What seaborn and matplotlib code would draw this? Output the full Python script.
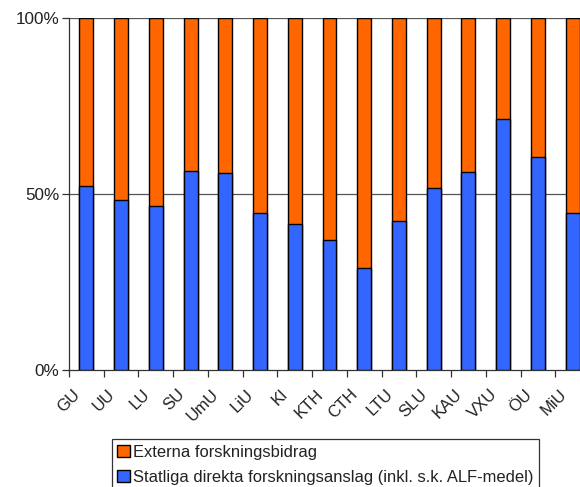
import matplotlib
matplotlib.use("Agg")
import matplotlib.pyplot as plt
import matplotlib.transforms as mtransforms
import seaborn as sns
import pandas as pd
import numpy as np
from matplotlib.patches import Patch

categories = ["GU", "UU", "LU", "SU", "UmU", "LiU", "KI", "KTH", "CTH", "LTU",
              "SLU", "KAU", "VXU", "ÖU", "MiU"]
statliga = [52.2, 48.4, 46.7, 56.7, 55.9, 44.7, 41.6, 36.9, 29.0, 42.3,
            51.8, 56.2, 71.4, 60.6, 44.7]
total = [100] * len(categories)
yticks = [0, 50, 100]
ytick_labels = ["0%", "50%", "100%"]
legend_labels = ["Externa forskningsbidrag",
                 "Statliga direkta forskningsanslag (inkl. s.k. ALF-medel)"]

orange = "#FF6600"
blue = "#3366FF"

sns.set_style("white")
plt.rcParams['font.family'] = ['Liberation Sans', 'DejaVu Sans']

df = pd.DataFrame({"lar": categories, "stat": statliga, "tot": total})

fig = plt.figure(figsize=(5.8, 4.87), dpi=100)
ax = fig.add_axes([69/580, 117/487, 521/580, 351.7/487])

sns.barplot(data=df, x="lar", y="tot", color=orange, width=0.4,
            edgecolor="black", linewidth=1, ax=ax, saturation=1, zorder=3)
sns.barplot(data=df, x="lar", y="stat", color=blue, width=0.4,
            edgecolor="black", linewidth=1, ax=ax, saturation=1, zorder=4)

ax.set_xlim(-0.5, len(categories) - 0.5)
ax.set_ylim(0, 100)
ax.set_xlabel("")
ax.set_ylabel("")

for yv in [50, 100]:
    ax.axhline(yv, color="#555555", linewidth=0.9, zorder=1)

ax.set_yticks(yticks)
ax.set_yticklabels(ytick_labels, fontsize=12.3, color="#222222")
ax.tick_params(axis="y", length=5, width=0.9, color="#333333", direction="out", left=True, pad=2)

ax.set_xticks(range(len(categories)))
ax.set_xticklabels(categories, rotation=45, ha="right", rotation_mode="anchor",
                   fontsize=12, color="#222222")
ax.tick_params(axis="x", which="major", length=0, pad=12)
offset = mtransforms.ScaledTranslation(-14/100, 0, fig.dpi_scale_trans)
for lab in ax.get_xticklabels():
    lab.set_transform(lab.get_transform() + offset)
ax.set_xticks(np.arange(-0.5, len(categories), 1), minor=True)
ax.tick_params(axis="x", which="minor", length=5, width=0.9, color="#333333", direction="out", bottom=True)

for s in ["top", "right"]:
    ax.spines[s].set_visible(False)
for s in ["left", "bottom"]:
    ax.spines[s].set_color("#333333")
    ax.spines[s].set_linewidth(0.9)

handles = [Patch(facecolor=orange, edgecolor="black", linewidth=1),
           Patch(facecolor=blue, edgecolor="black", linewidth=1)]
leg = fig.legend(handles, legend_labels, loc="upper left",
                 bbox_to_anchor=(111.5/580, (487-439)/487), frameon=True,
                 fancybox=False, edgecolor="black", fontsize=11.9,
                 handlelength=0.75, handleheight=0.75, handletextpad=0.2,
                 borderpad=0.35, labelspacing=0.6, borderaxespad=0)
leg.get_frame().set_linewidth(0.9)
for t in leg.get_texts():
    t.set_color("#222222")

fig.savefig("out.png", dpi=100)
